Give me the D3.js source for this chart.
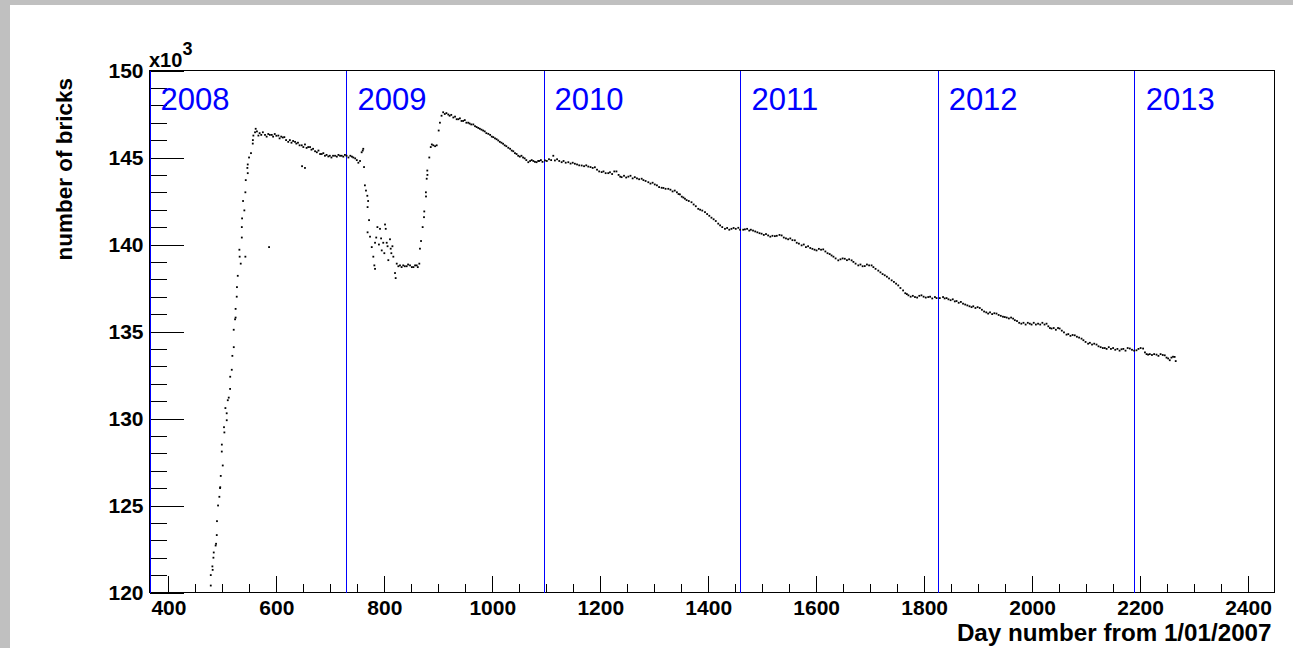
<!DOCTYPE html>
<html>
<head>
<meta charset="utf-8">
<script src="https://cdn.jsdelivr.net/npm/d3@7"></script>
<style>
html,body{margin:0;padding:0;background:#c0c0c0;}
svg{display:block;}
text{font-family:"Liberation Sans",Arial,Helvetica,sans-serif;}
</style>
</head>
<body>
<svg id="chart" width="1293" height="648"></svg>
<script>
// ---- data ----
const days = [
478.5,478.5,481.5,482,483.4,484,488.3,487.5,489.6,490,492,494.4,495.7,496,497,500.7,498.9,499,503.7,503,508.1,508,505.6,510,511.8,514.3,514.5,517.4,518.5,521.1,521,523.5,524.5,524.5,526.6,527,528.5,534,542.6,532,531.5,536,536,536.5,540.7,538.3,542.6,543.3,547,546.3,547,549.4,553,556.3,556.5,557.4,560.5,561.7,
586.5,647.6,653,
564,566.7,569,572,575,579,582,585,588,591.5,594,597,600,603.7,606,609,612,614.8,618,622,625,628,631,634.6,637,640,643,647,650,653,656,659,662.4,665,668,671.7,675,678,681,684,687,690,693,696.3,699,702,705,708.7,712,715,718,721,724,727,730,733.5,737,740,742.6,746,749,751.9,755,758,760,761,
762.4,764,766,768.5,770,769,771.7,769,773.5,776.7,779.6,781.5,782.8,
782.8,787.2,792,795.2,798,801.3,802.6,804.4,810.5,811.8,807.4,816.7,819.8,821,823,826,829,832,835,838,841.4,844,847.6,851,853.9,857,860,862,864.8,
785,790,794,800,806,813,815,
866,868,871,873.5,874,877.2,877,878.5,879.6,879.8,883.3,886,888,890.7,894,897,900.7,903,906,909,
912,915,918.5,921,924,927.8,931,934,937,940,943,946,949,952,955.5,958,961,964.8,968,971,974,977,980,983,986,989,992.6,996,999,1001.8,1005,1008,1011,1014,1017,1020,1023,1026,1029.6,1033,1036,1038.9,1042,1045,1048,1051,1054,1057,1060,1063,1066.7,1070,1073,1076,1079,1082,1085,1087,1090,1093,
1097.6,1101,1105,1109,1113,1116,1120,1124,1128.5,1132,1136,1140.8,1145,1149,1153,1157,1161,1165.6,1170,1174,1177.8,1182,1186,1190,1194,1198,1202.6,1206,1210,1214.8,1218,1222,1226,1230,1234,1237,1239.6,1244,1248,1252,1256,1260,1264,1268,1272,1276.7,1280,1284,1289,1293,1297,1301,1305,1309,1313.7,1317,1321,1326,1330,1334,1338,1342,1345,1347.6,1351,1354,1356.9,1360,1364,1369,1373,1377,1381.5,1385,1389,1394,1398,1402,1406,1410,1414,1418.5,1422,1426,1431,1435,1439,1443,1447,1451,1455.7,1459,
1464.8,1468,1472,1476,1479,1483,1487,1491,1495,1498.9,1503,1507,1511,1515,1519,1523.5,1527,1532,1536,1540,1544,1548,1552,1556,1560.5,1564,1568,1573,1577,1581,1585,1589,1593,1597,1600.7,1605,1609,1613,1617,1621,1625,1628.5,1632,1636,1640.9,1645,1649,1653,1657,1661,1665.6,1669,1673,1678,1682,1686,1690,1694,1698,1702.6,1706,1710,1715,1719,1723,1727,1731,1735,1739.8,1744,1748,1752,1756,1761,1765,1768,1770.9,1775,1779,1783,1787,1791,1795,1799,1803,1807.5,1811,1815,1820,1823,
1829,1835,1838,1841.5,1845,1849,1853,1856.8,1860,1864,1868,1872,1876,1880,1884,1887.8,1891,1895,1899,1903,1907,1911,1915,1918.5,1922,1926,1930,1934,1938,1942,1946,1949.4,1953,1957,1961,1964.8,1968,1972,1976,1980,1984,1988,1992,1995.7,1999,2003,2007,2011,2015,2019,2023,2026.7,2030,2033,2036,2040,2044,2048,2051,2055,2059,2063.7,2067,2071,2075,2079,2083,2087,2091.5,2095,2099,2103.7,2107,2111,2115,2119.3,2123,2127,2131,2134.6,2138,2142,2146,2150,2154,2158,2162,2165.6,2169,2173,2177,2181,2185,2189,2193.3,2197,2201,2205.6,2209,2212,2214.8,2218,2222,2226,2230.4,2234,2238,2242,2245.7,2249,2252,2255,2258,2261,2264,2266
];
const bricks = [ // in units of 10^3
120.4,121.0,121.5,121.3,122.0,122.3,122.8,122.7,123.3,124.1,125.0,125.5,126.0,126.05,126.7,127.3,128.1,128.5,129.2,129.5,129.9,130.3,130.6,131.05,131.2,131.7,132.4,132.8,133.6,134.1,135.1,135.7,135.8,136.3,137.0,137.55,138.2,138.9,139.3,139.3,139.7,140.4,141.0,141.5,141.96,142.5,143.0,143.7,144.1,144.4,144.6,145.0,145.25,145.8,146.0,146.26,146.45,146.65,
139.85,144.5,144.4,
146.5,146.26,146.4,146.3,146.45,146.3,146.2,146.35,146.3,146.3,146.2,146.35,146.25,146.26,146.1,146.2,146.15,146.17,146.0,145.9,146.0,145.85,145.95,145.9,145.8,145.85,145.7,145.7,145.6,145.75,145.55,145.6,145.6,145.45,145.5,145.36,145.3,145.4,145.2,145.2,145.25,145.1,145.15,145.06,145.1,145.0,145.1,145.1,145.05,145.15,145.1,145.1,145.05,145.15,145.1,145.0,145.1,145.05,145.0,144.95,144.85,144.7,144.8,145.3,145.4,145.5,
144.45,143.4,143.1,142.8,142.5,142.15,141.4,140.7,140.45,139.85,139.3,138.8,138.6,
140.1,141.0,140.9,139.66,140.1,141.15,140.9,140.1,140.3,139.76,139.1,139.3,138.36,138.07,138.9,138.75,138.8,138.7,138.8,138.75,138.75,138.85,138.8,138.7,138.7,138.8,138.8,138.7,138.9,
140.4,140.0,140.35,139.5,139.9,139.5,139.9,
139.76,140.2,141.0,141.57,141.9,142.76,143.0,143.78,144.25,144.0,145.0,145.6,145.75,145.7,145.65,145.7,146.55,147.0,147.4,147.6,
147.5,147.55,147.47,147.4,147.45,147.3,147.35,147.2,147.2,147.25,147.1,147.1,147.15,147.0,147.0,146.95,146.9,146.9,146.8,146.75,146.7,146.65,146.6,146.55,146.5,146.4,146.36,146.3,146.2,146.17,146.1,146.05,145.98,145.9,145.85,145.79,145.7,145.65,145.56,145.5,145.4,145.36,145.25,145.2,145.1,145.05,145.1,145.0,144.95,144.85,144.73,144.8,144.85,144.8,144.75,144.73,144.8,144.8,144.85,144.75,
144.83,144.8,144.9,144.85,145.1,144.83,144.9,144.8,144.73,144.8,144.7,144.73,144.65,144.7,144.64,144.6,144.55,144.54,144.5,144.55,144.48,144.45,144.4,144.44,144.3,144.2,144.16,144.2,144.1,144.1,144.15,144.05,144.2,144.2,144.0,143.9,143.87,143.95,143.85,143.9,143.95,143.8,143.87,143.8,143.75,143.78,143.7,143.65,143.58,143.5,143.55,143.45,143.4,143.3,143.26,143.25,143.2,143.2,143.15,143.05,143.1,143.0,142.9,142.88,142.75,142.7,142.63,142.55,142.5,142.43,142.3,142.2,142.05,142.0,141.95,141.86,141.75,141.65,141.54,141.45,141.35,141.2,141.1,141.0,140.9,140.95,140.85,140.9,140.95,140.9,140.96,140.85,
140.85,140.87,140.9,140.8,140.85,140.8,140.75,140.7,140.65,140.62,140.55,140.6,140.52,140.45,140.5,140.48,140.5,140.55,140.52,140.4,140.35,140.3,140.35,140.25,140.24,140.1,140.05,139.95,140.0,139.85,139.9,139.8,139.75,139.7,139.66,139.75,139.7,139.72,139.6,139.5,139.45,139.37,139.3,139.2,139.09,139.15,139.2,139.18,139.1,139.15,139.09,139.0,138.9,138.8,138.85,138.75,138.76,138.85,138.8,138.8,138.7,138.6,138.5,138.4,138.3,138.23,138.15,138.05,137.94,137.85,137.75,137.65,137.5,137.36,137.2,137.15,137.08,137.0,137.05,136.98,136.95,137.05,137.08,137.0,136.95,136.98,137.0,136.9,136.98,136.92,
136.92,136.98,136.9,136.92,136.85,136.8,136.85,136.73,136.75,136.65,136.7,136.6,136.55,136.5,136.45,136.4,136.45,136.35,136.4,136.35,136.25,136.15,136.1,136.03,136.1,136.0,136.05,136.03,135.95,135.9,135.85,135.83,135.8,135.75,135.8,135.74,135.65,135.6,135.5,135.45,135.5,135.4,135.5,135.45,135.4,135.5,135.4,135.45,135.4,135.5,135.4,135.45,135.3,135.2,135.17,135.2,135.1,135.2,135.17,135.05,134.95,134.82,134.85,134.75,134.8,134.78,134.7,134.65,134.59,134.5,134.4,134.3,134.35,134.25,134.3,134.25,134.15,134.1,134.05,134.05,134.0,134.1,134.0,134.05,133.95,134.0,133.9,133.98,134.0,133.9,134.05,134.02,133.95,133.9,133.92,134.0,134.05,134.02,133.8,133.7,133.67,133.7,133.65,133.7,133.67,133.6,133.7,133.65,133.63,133.5,133.45,133.35,133.5,133.55,133.54,133.3
];
const yearLabels = ["2008","2009","2010","2011","2012","2013"];
const yearStartDays = [365, 730, 1095, 1460, 1825, 2190];
const xMajorTicks = [400, 600, 800, 1000, 1200, 1400, 1600, 1800, 2000, 2200, 2400];
const yMajorTicks = [120, 125, 130, 135, 140, 145, 150];
const xDomain = [365, 2449];
const yDomain = [120, 150];

// ---- layout ----
const W = 1293, H = 648;
const L = 149.5, R = 1274.5, T = 70.5, B = 592.5;
const svg = d3.select("#chart");
svg.append("rect").attr("x",0).attr("y",0).attr("width",W).attr("height",H).attr("fill","#c0c0c0");
svg.append("rect").attr("x",10).attr("y",5).attr("width",W-10).attr("height",H-5).attr("fill","#ffffff");

const x = d3.scaleLinear().domain(xDomain).range([L, R]);
const y = d3.scaleLinear().domain(yDomain).range([B, T]);

const font = '"Liberation Sans",Arial,Helvetica,sans-serif';

// minor ticks
const xMinor = d3.range(400, 2450, 50).filter(v => !xMajorTicks.includes(v));
const yMinor = d3.range(121, 150, 1).filter(v => !yMajorTicks.includes(v));

const gx = svg.append("g").attr("transform",`translate(0,${B})`);
gx.call(d3.axisBottom(x).tickValues(xMinor).tickSize(-8.5).tickFormat(""));
gx.call(g=>g.select(".domain").remove());
const gx2 = svg.append("g").attr("transform",`translate(0,${B})`);
gx2.call(d3.axisBottom(x).tickValues(xMajorTicks).tickSize(-17).tickPadding(7.5).tickFormat(d3.format("d")));
gx2.call(g=>g.select(".domain").remove());
gx2.selectAll("text").attr("font-family",font).attr("font-size",21).attr("font-weight","bold").attr("fill","#000");

const gy = svg.append("g").attr("transform",`translate(${L},0)`);
gy.call(d3.axisLeft(y).tickValues(yMinor).tickSize(-17).tickFormat(""));
gy.call(g=>g.select(".domain").remove());
const gy2 = svg.append("g").attr("transform",`translate(${L},0)`);
gy2.call(d3.axisLeft(y).tickValues(yMajorTicks).tickSize(-34).tickPadding(6).tickFormat(d3.format("d")));
gy2.call(g=>g.select(".domain").remove());
gy2.selectAll("text").attr("font-family",font).attr("font-size",21).attr("font-weight","bold").attr("fill","#000");

svg.selectAll(".tick line").attr("stroke","#000").attr("shape-rendering","crispEdges");

// frame
svg.append("rect").attr("x",L).attr("y",T).attr("width",R-L).attr("height",B-T)
  .attr("fill","none").attr("stroke","#000").attr("stroke-width",1).attr("shape-rendering","crispEdges");

// year lines and labels (snapped to even pixel columns so the thin blue stays blue)
const yr = svg.append("g");
yearStartDays.forEach((d,i)=>{
  let col = Math.floor(x(d));
  if (col % 2 === 1) col += 1;
  const px = col + 0.5;
  yr.append("line").attr("x1",px).attr("x2",px).attr("y1",T).attr("y2",B)
    .attr("stroke","#0000ff").attr("stroke-width",1).attr("shape-rendering","crispEdges");
  yr.append("text").attr("x",x(d)+11).attr("y",110).text(yearLabels[i])
    .attr("font-family",font).attr("font-size",31).attr("fill","#0000ff");
});

// points
svg.append("g").selectAll("rect").data(days.map((d,i)=>[d,bricks[i]])).join("rect")
  .attr("x",d=>x(d[0])-0.9).attr("y",d=>y(d[1])-0.9)
  .attr("width",1.8).attr("height",1.8).attr("fill","#000");

// axis titles
svg.append("text").attr("x",R-3).attr("y",641).attr("text-anchor","end")
  .attr("font-family",font).attr("font-size",24.2).attr("font-weight","bold").text("Day number from 1/01/2007");
svg.append("text").attr("transform","translate(72,78) rotate(-90)").attr("text-anchor","end")
  .attr("font-family",font).attr("font-size",22.5).attr("font-weight","bold").text("number of bricks");

// x10^3 multiplier
const mult = svg.append("text").attr("x",149).attr("y",67)
  .attr("font-family",font).attr("font-size",20).attr("font-weight","bold");
mult.append("tspan").text("x10");
mult.append("tspan").attr("font-size",18).attr("dy",-12).text("3");
</script>
</body>
</html>
